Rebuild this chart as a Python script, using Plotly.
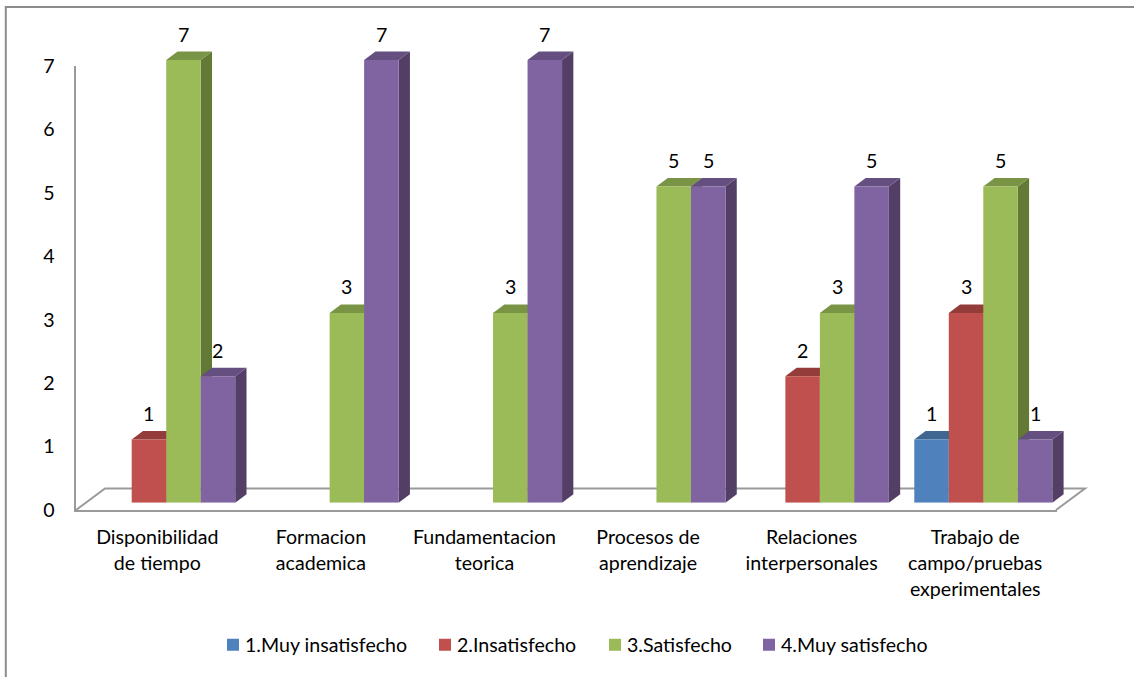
import plotly.graph_objects as go

categories = ["Disponibilidad de tiempo", "Formacion academica", "Fundamentacion teorica",
              "Procesos de aprendizaje", "Relaciones interpersonales",
              "Trabajo de campo/pruebas experimentales"]
tick_lines = [["Disponibilidad", "de tiempo"], ["Formacion", "academica"], ["Fundamentacion", "teorica"],
              ["Procesos de", "aprendizaje"], ["Relaciones", "interpersonales"],
              ["Trabajo de", "campo/pruebas", "experimentales"]]
series_names = ["1.Muy insatisfecho", "2.Insatisfecho", "3.Satisfecho", "4.Muy satisfecho"]
muy_insatisfecho = [None, None, None, None, None, 1]
insatisfecho = [1, None, None, None, 2, 3]
satisfecho = [7, 3, 3, 5, 3, 5]
muy_satisfecho = [2, 7, 7, 5, 5, 1]
series_values = [muy_insatisfecho, insatisfecho, satisfecho, muy_satisfecho]
front_colors = ["#4F81BD", "#C0504D", "#9BBB59", "#8064A2"]
top_colors = ["#3E6690", "#943C3A", "#7A9446", "#654F80"]
side_colors = ["#345678", "#7A3230", "#637A36", "#533F66"]
legend_left_px = [205, 417, 587, 741]

W, H = 1134, 677
FONT = "Lato, Carlito, Calibri, sans-serif"
TXT = 19.6
LINE = "#9A9A9A"
px = lambda v: v / W
py = lambda v: 1 - v / H

# bar (shifted) plot geometry
BX0, BX1 = 84.5, 1065.0
BY0, UNIT = 502.7, 63.24
YMAX2 = 7.7
GROUP = 138.0 / 163.4
bar_w = GROUP / 4
dx = 11.3 / ((BX1 - BX0) / 6)
dy = 8.5 / UNIT

fig = go.Figure()
# invisible trace that carries the visible category axis
fig.add_trace(go.Scatter(x=categories, y=[None] * 6, xaxis="x", yaxis="y", mode="markers",
                         showlegend=False, hoverinfo="skip"))

shapes = []
# frame and floor
shapes.append(dict(type="path", xref="paper", yref="paper", layer="below",
                   path=f"M {px(5.8)} {py(677)} L {px(5.8)} {py(7)} L {px(1134)} {py(7)}",
                   line=dict(color="#8C8C8C", width=2)))
shapes.append(dict(type="path", xref="paper", yref="paper", layer="below",
                   path=f"M {px(76)} {py(510)} L {px(105)} {py(488.5)} L {px(1085)} {py(488.5)} L {px(1056)} {py(510)}",
                   line=dict(color=LINE, width=2)))

annotations = []
for s, (name, vals) in enumerate(zip(series_names, series_values)):
    legend_id = "legend" if s == 0 else f"legend{s + 1}"
    fig.add_trace(go.Bar(x=list(range(6)), y=vals, name=name, xaxis="x2", yaxis="y2",
                         marker=dict(color=front_colors[s], line=dict(width=0)),
                         legend=legend_id, showlegend=True))
# depth faces, painted left to right below the bar fronts
for i in range(6):
    for s, vals in enumerate(series_values):
        v = vals[i]
        if v is None:
            continue
        l = i - GROUP / 2 + s * bar_w
        r = l + bar_w
        shapes.append(dict(type="path", xref="x2", yref="y2", layer="below", line=dict(width=0),
                           fillcolor=side_colors[s],
                           path=f"M {r} 0 L {r + dx} {dy} L {r + dx} {v + dy} L {r} {v} Z"))
        shapes.append(dict(type="path", xref="x2", yref="y2", layer="below", line=dict(width=0),
                           fillcolor=top_colors[s],
                           path=f"M {l} {v} L {l + dx} {v + dy} L {r + dx} {v + dy} L {r} {v} Z"))
        annotations.append(dict(x=(l + r) / 2, y=v, xref="x2", yref="y2", text=str(v), showarrow=False,
                                yanchor="middle", yshift=26, font=dict(family=FONT, size=TXT, color="#000000")))

ticktext = ["<br>".join(f'<span style="font-size:{TXT}px">{t}</span>' for t in lines) for lines in tick_lines]
layout_legends = {}
for s, left in enumerate(legend_left_px):
    key = "legend" if s == 0 else f"legend{s + 1}"
    layout_legends[key] = dict(x=px(left), y=py(645), xanchor="left", yanchor="middle",
                               bgcolor="rgba(0,0,0,0)", borderwidth=0, itemclick=False, itemdoubleclick=False,
                               font=dict(family=FONT, size=TXT, color="#000000"))

fig.update_layout(
    width=W, height=H, margin=dict(l=0, r=0, t=0, b=0, autoexpand=False), autosize=False,
    paper_bgcolor="#FFFFFF", plot_bgcolor="rgba(0,0,0,0)",
    barmode="group", bargap=1 - GROUP, bargroupgap=0,
    font=dict(family=FONT, size=TXT, color="#000000"),
    xaxis=dict(domain=[px(75.5), px(1057)], anchor="y", type="category", range=[-0.5, 5.5],
               tickmode="array", tickvals=categories, ticktext=ticktext, showgrid=False, zeroline=False,
               showline=True, linecolor=LINE, linewidth=2, ticks="outside", ticklen=8,
               tickcolor="rgba(0,0,0,0)", tickfont=dict(family=FONT, size=20, color="#000000"), tickangle=0),
    yaxis=dict(domain=[py(510), py(66)], anchor="x", range=[0, 7], tickmode="array", tickvals=list(range(8)),
               showgrid=False, zeroline=False, showline=True, linecolor=LINE, linewidth=2, ticks="outside",
               ticklen=15, tickcolor="rgba(0,0,0,0)", tickfont=dict(family=FONT, size=TXT, color="#000000")),
    xaxis2=dict(domain=[px(BX0), px(BX1)], anchor="y2", range=[-0.5, 5.5], visible=False),
    yaxis2=dict(domain=[py(BY0), py(BY0 - UNIT * YMAX2)], anchor="x2", range=[0, YMAX2], visible=False),
    shapes=shapes, annotations=annotations, **layout_legends,
)

post = ("document.body.style.margin='0';"
        "document.querySelectorAll('.legendpoints').forEach(function(e){"
        "var t=e.getAttribute('transform')||'';e.setAttribute('transform',t+' translate(8,0)');});")
fig.write_html("out.html", post_script=post, config={"displayModeBar": False})
